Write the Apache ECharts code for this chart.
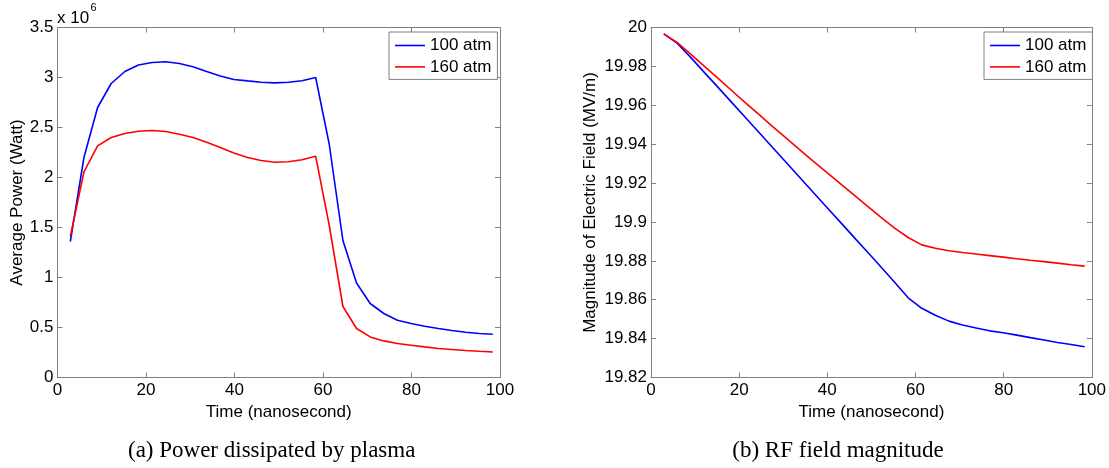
<!DOCTYPE html>
<html>
<head>
<meta charset="utf-8">
<script src="https://cdn.jsdelivr.net/npm/echarts@6/dist/echarts.min.js"></script>
<style>
html,body{margin:0;padding:0;background:#fff;}
#chart{width:1109px;height:468px;}
</style>
</head>
<body>
<div id="chart"></div>
<script>
// Time samples (nanosecond)
const time = [2.9, 5.98, 9.06, 12.14, 15.22, 18.3, 21.38, 24.46, 27.54, 30.62, 33.7, 36.78, 39.86, 42.94, 46.02, 49.1,
  52.18, 55.26, 58.34, 61.42, 64.5, 67.58, 70.66, 73.74, 76.82, 79.9, 82.98, 86.06, 89.14, 92.22, 95.3, 98.38];

// (a) Average power, units of 10^6 W
const power100 = [1.36, 2.20, 2.70, 2.94, 3.06, 3.125, 3.15, 3.157, 3.14, 3.107, 3.06, 3.015, 2.98, 2.966, 2.953, 2.946,
  2.952, 2.968, 3.0, 2.33, 1.37, 0.945, 0.74, 0.64, 0.573, 0.54, 0.513, 0.49, 0.47, 0.453, 0.44, 0.433];
const power160 = [1.41, 2.056, 2.316, 2.40, 2.44, 2.463, 2.47, 2.46, 2.433, 2.40, 2.353, 2.30, 2.246, 2.20, 2.17, 2.153,
  2.157, 2.177, 2.213, 1.52, 0.71, 0.49, 0.406, 0.366, 0.34, 0.323, 0.306, 0.29, 0.28, 0.27, 0.262, 0.255];

// (b) Magnitude of electric field (MV/m)
const field100 = [19.9967, 19.9918, 19.9845, 19.9768, 19.9692, 19.9615, 19.9538, 19.9461, 19.9384, 19.9307, 19.923,
  19.9153, 19.9076, 19.8999, 19.8922, 19.8845, 19.8768, 19.869, 19.861, 19.8556, 19.852, 19.849, 19.847, 19.8455,
  19.844, 19.843, 19.8418, 19.8405, 19.8393, 19.838, 19.837, 19.8358];
const field160 = [19.9967, 19.9922, 19.9862, 19.98, 19.9738, 19.9676, 19.9614, 19.9553, 19.9492, 19.9432, 19.9372,
  19.9313, 19.9255, 19.9197, 19.9139, 19.9081, 19.9024, 19.8968, 19.892, 19.8882, 19.8865, 19.8852, 19.8843, 19.8835,
  19.8827, 19.8819, 19.8811, 19.8803, 19.8796, 19.8788, 19.878, 19.8773];

const seriesNames = ['100 atm', '160 atm'];
const seriesColors = ['#0000ff', '#ff0000'];
const xTitle = 'Time (nanosecond)';
const yTitleA = 'Average Power (Watt)';
const yTitleB = 'Magnitude of Electric Field (MV/m)';
const captionA = '(a) Power dissipated by plasma';
const captionB = '(b) RF field magnitude';

const FRAME = '#808080';
const FONT = '"Liberation Sans", Arial, sans-serif';
const SERIF = '"Liberation Serif", "Times New Roman", serif';
const FS = 17;

function pairs(xs, ys) { return xs.map((x, i) => [x, ys[i]]); }

function xAx(grid, pos, named) {
  return {
    gridIndex: grid, type: 'value', position: pos, min: 0, max: 100, interval: 20,
    axisLine: { show: true, onZero: false, lineStyle: { color: FRAME, width: 1 } },
    axisTick: { show: true, inside: true, length: 5, lineStyle: { color: FRAME } },
    axisLabel: { show: named, color: '#000', fontSize: FS, fontFamily: FONT, margin: 4 },
    splitLine: { show: false },
    name: named ? xTitle : '', nameLocation: 'middle', nameGap: 20.5,
    nameTextStyle: { color: '#000', fontSize: FS, fontFamily: FONT }
  };
}
function yAx(grid, pos, named, min, max, interval, title, gap, fmt) {
  return {
    gridIndex: grid, type: 'value', position: pos, min: min, max: max, interval: interval,
    axisLine: { show: true, onZero: false, lineStyle: { color: FRAME, width: 1 } },
    axisTick: { show: true, inside: true, length: 5, lineStyle: { color: FRAME } },
    axisLabel: { show: named, color: '#000', fontSize: FS, fontFamily: FONT, margin: 4, formatter: fmt },
    splitLine: { show: false },
    name: named ? title : '', nameLocation: 'middle', nameGap: gap,
    nameTextStyle: { color: '#000', fontSize: FS, fontFamily: FONT }
  };
}
const fmtA = v => String(+v.toFixed(1));
const fmtB = v => String(+v.toFixed(2));

function legend(left) {
  return {
    left: left, top: 32, orient: 'vertical', icon: 'rect', itemWidth: 30, itemHeight: 1.6, itemGap: 4.4,
    padding: [5, 6, 4, 6], borderColor: FRAME, borderWidth: 1, backgroundColor: '#fff',
    textStyle: { color: '#000', fontSize: FS, fontFamily: FONT },
    data: seriesNames
  };
}

function line(name, color, xi, data) {
  return {
    name: name, type: 'line', xAxisIndex: xi, yAxisIndex: xi, data: data,
    symbol: 'none', smooth: false, color: color,
    itemStyle: { color: color },
    lineStyle: { color: color, width: 1.6 }
  };
}

const chart = echarts.init(document.getElementById('chart'), null, { renderer: 'canvas' });
chart.setOption({
  animation: false,
  backgroundColor: '#fff',
  textStyle: { fontFamily: FONT },
  grid: [
    { left: 57.5, top: 27.5, width: 442.5, height: 350 },
    { left: 651, top: 27.5, width: 442, height: 350 }
  ],
  xAxis: [xAx(0, 'bottom', true), xAx(0, 'top', false), xAx(1, 'bottom', true), xAx(1, 'top', false)],
  yAxis: [
    yAx(0, 'left', true, 0, 3.5, 0.5, yTitleA, 32, fmtA),
    yAx(0, 'right', false, 0, 3.5, 0.5, '', 0, fmtA),
    yAx(1, 'left', true, 19.82, 20, 0.02, yTitleB, 52.5, fmtB),
    yAx(1, 'right', false, 19.82, 20, 0.02, '', 0, fmtB)
  ],
  legend: [legend(389), legend(984)],
  series: [
    line(seriesNames[0], seriesColors[0], 0, pairs(time, power100)),
    line(seriesNames[1], seriesColors[1], 0, pairs(time, power160)),
    line(seriesNames[0], seriesColors[0], 2, pairs(time, field100)),
    line(seriesNames[1], seriesColors[1], 2, pairs(time, field160))
  ],
  graphic: [
    { type: 'text', style: { x: 57, y: 18, text: 'x 10', font: FS + 'px ' + FONT, fill: '#000', verticalAlign: 'middle' } },
    { type: 'text', style: { x: 90.5, y: 8, text: '6', font: '11px ' + FONT, fill: '#000', verticalAlign: 'middle' } },
    { type: 'text', style: { x: 271.7, y: 451, text: captionA, font: '23px ' + SERIF, fill: '#000', align: 'center', verticalAlign: 'middle' } },
    { type: 'text', style: { x: 838, y: 451, text: captionB, font: '23px ' + SERIF, fill: '#000', align: 'center', verticalAlign: 'middle' } }
  ]
});
</script>
</body>
</html>
